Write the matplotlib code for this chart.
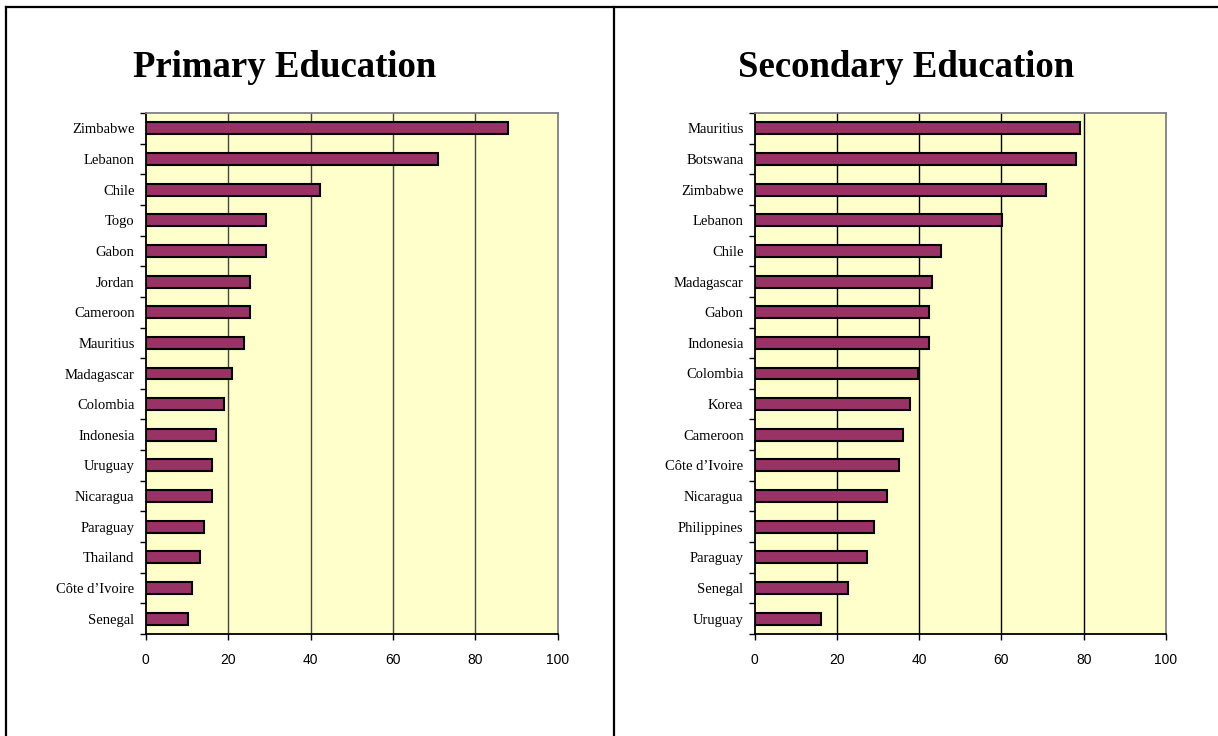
import matplotlib
matplotlib.use("Agg")
import matplotlib.pyplot as plt
from matplotlib.lines import Line2D
import numpy as np

primary_countries = ["Zimbabwe", "Lebanon", "Chile", "Togo", "Gabon", "Jordan",
                     "Cameroon", "Mauritius", "Madagascar", "Colombia", "Indonesia",
                     "Uruguay", "Nicaragua", "Paraguay", "Thailand", "Côte d’Ivoire",
                     "Senegal"]
primary_values = [88, 71, 42.3, 29.3, 29.3, 25.4, 25.4, 23.9, 21, 19.1, 17.1,
                  16.1, 16.1, 14.2, 13.2, 11.2, 10.3]

secondary_countries = ["Mauritius", "Botswana", "Zimbabwe", "Lebanon", "Chile",
                       "Madagascar", "Gabon", "Indonesia", "Colombia", "Korea",
                       "Cameroon", "Côte d’Ivoire", "Nicaragua", "Philippines",
                       "Paraguay", "Senegal", "Uruguay"]
secondary_values = [79.1, 78.1, 70.9, 60.2, 45.2, 43.2, 42.3, 42.3, 39.8, 37.8,
                    36.0, 35.0, 32.1, 29.1, 27.2, 22.8, 16.0]

titles = ["Primary Education", "Secondary Education"]
x_ticks = [0, 20, 40, 60, 80, 100]

W, H = 1218, 736
fig = plt.figure(figsize=(W / 100, H / 100), dpi=100)

def fx(px):
    return px / W

def fy(py):
    return 1 - py / H

# panel borders
lw_border = 1.6
fig.add_artist(Line2D([fx(6), fx(6)], [fy(7), 0], color="black", lw=lw_border, transform=fig.transFigure))
fig.add_artist(Line2D([fx(6), 1], [fy(7), fy(7)], color="black", lw=lw_border, transform=fig.transFigure))
fig.add_artist(Line2D([fx(614), fx(614)], [fy(7), 0], color="black", lw=lw_border, transform=fig.transFigure))

panels = [
    (primary_countries, primary_values, 145.7, 557.7, 285, "#444444"),
    (secondary_countries, secondary_values, 754.7, 1166, 906, "black"),
]

top_px, bot_px = 113, 634
for (countries, values, x0, x1, tx, gridc), title in zip(panels, titles):
    ax = fig.add_axes([fx(x0), fy(bot_px), (x1 - x0) / W, (bot_px - top_px) / H])
    ax.set_facecolor("#FFFFCC")
    n = len(countries)
    y = np.arange(n)[::-1]
    ax.barh(y, values, height=0.39, color="#993366", edgecolor="black", linewidth=1.5, zorder=3)
    ax.set_xlim(0, 100)
    ax.set_ylim(-0.5, n - 0.5)
    ax.set_xticks(x_ticks)
    ax.set_xticklabels([str(t) for t in x_ticks], fontsize=10, family="Liberation Sans")
    ax.set_yticks(y)
    ax.set_yticklabels(countries, fontsize=10.5, family="Liberation Serif")
    ax.set_yticks(np.arange(n + 1) - 0.5, minor=True)
    ax.tick_params(axis="y", which="major", length=0, pad=8)
    ax.tick_params(axis="y", which="minor", length=4, width=1, direction="out", color="black")
    ax.tick_params(axis="x", which="major", length=4, width=1, direction="out", pad=10, color="black")
    for gx in x_ticks[1:-1]:
        ax.axvline(gx, color=gridc, lw=1, zorder=1)
    ax.spines["left"].set_color("black")
    ax.spines["bottom"].set_color("black")
    ax.spines["top"].set_color("#808080")
    ax.spines["right"].set_color("#808080")
    for s in ax.spines.values():
        s.set_linewidth(1.3)
    fig.text(fx(tx), fy(77), title, ha="center", va="baseline", fontsize=26.5,
             fontweight="bold", family="Liberation Serif")

fig.savefig("out.png", dpi=100)
